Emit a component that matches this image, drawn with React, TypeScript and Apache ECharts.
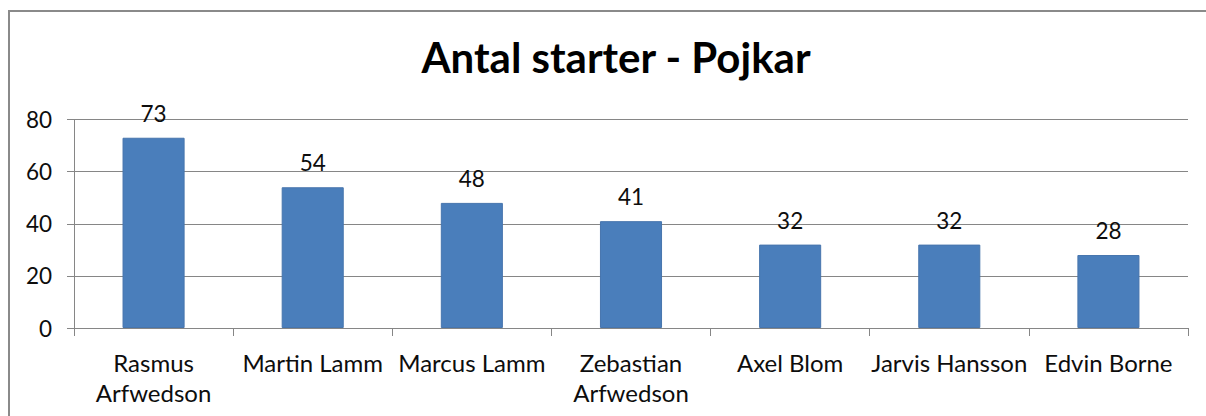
import React, { useEffect, useRef } from "react";
import * as echarts from "echarts";

const categories = [
  "Rasmus\nArfwedson",
  "Martin Lamm",
  "Marcus Lamm",
  "Zebastian\nArfwedson",
  "Axel Blom",
  "Jarvis Hansson",
  "Edvin Borne",
];
const starts = [73, 54, 48, 41, 32, 32, 28];
const yTicks = { min: 0, max: 80, interval: 20 };
const titleText = "Antal starter - Pojkar";

const FONT = "Lato, 'Open Sans', sans-serif";
const GRAY = "#868686";

export default function App() {
  const ref = useRef<HTMLDivElement>(null);
  useEffect(() => {
    document.body.style.margin = "0";
    const chart = echarts.init(ref.current!, null, { renderer: "svg" });
    chart.setOption({
      animation: false,
      backgroundColor: "#ffffff",
      title: {
        text: titleText,
        left: 611,
        textAlign: "center",
        top: 31,
        textStyle: {
          fontFamily: FONT,
          fontWeight: "bold",
          fontSize: 42,
          color: "#000000",
        },
      },
      graphic: [
        {
          type: "rect",
          shape: { x: 9, y: 11, width: 1220, height: 430 },
          style: { fill: "none", stroke: "#8a8a8a", lineWidth: 2 },
          silent: true,
        },
      ],
      grid: { left: 74, right: 18, top: 119.5, bottom: 88, containLabel: false },
      xAxis: {
        type: "category",
        data: categories,
        boundaryGap: true,
        axisLine: { show: true, lineStyle: { color: GRAY, width: 1 } },
        axisTick: { show: true, length: 8, alignWithLabel: false, lineStyle: { color: GRAY } },
        axisLabel: {
          interval: 0,
          margin: 19,
          fontFamily: FONT,
          fontSize: 24,
          color: "#0d0d0d",
          lineHeight: 30,
        },
      },
      yAxis: {
        type: "value",
        min: yTicks.min,
        max: yTicks.max,
        interval: yTicks.interval,
        axisLine: { show: true, lineStyle: { color: GRAY, width: 1 } },
        axisTick: { show: true, length: 7, inside: false, lineStyle: { color: GRAY } },
        splitLine: { show: true, lineStyle: { color: GRAY, width: 1 } },
        axisLabel: {
          margin: 22,
          fontFamily: FONT,
          fontSize: 22.5,
          color: "#0d0d0d",
        },
      },
      series: [
        {
          type: "bar",
          data: starts,
          barCategoryGap: "61%",
          itemStyle: { color: "#4A7EBB", borderColor: "#4775AD", borderWidth: 1 },
          label: {
            show: true,
            position: "top",
            distance: 13,
            fontFamily: FONT,
            fontSize: 22.5,
            color: "#0d0d0d",
          },
        },
      ],
    });
    return () => chart.dispose();
  }, []);
  return <div ref={ref} style={{ width: 1206, height: 416 }} />;
}
